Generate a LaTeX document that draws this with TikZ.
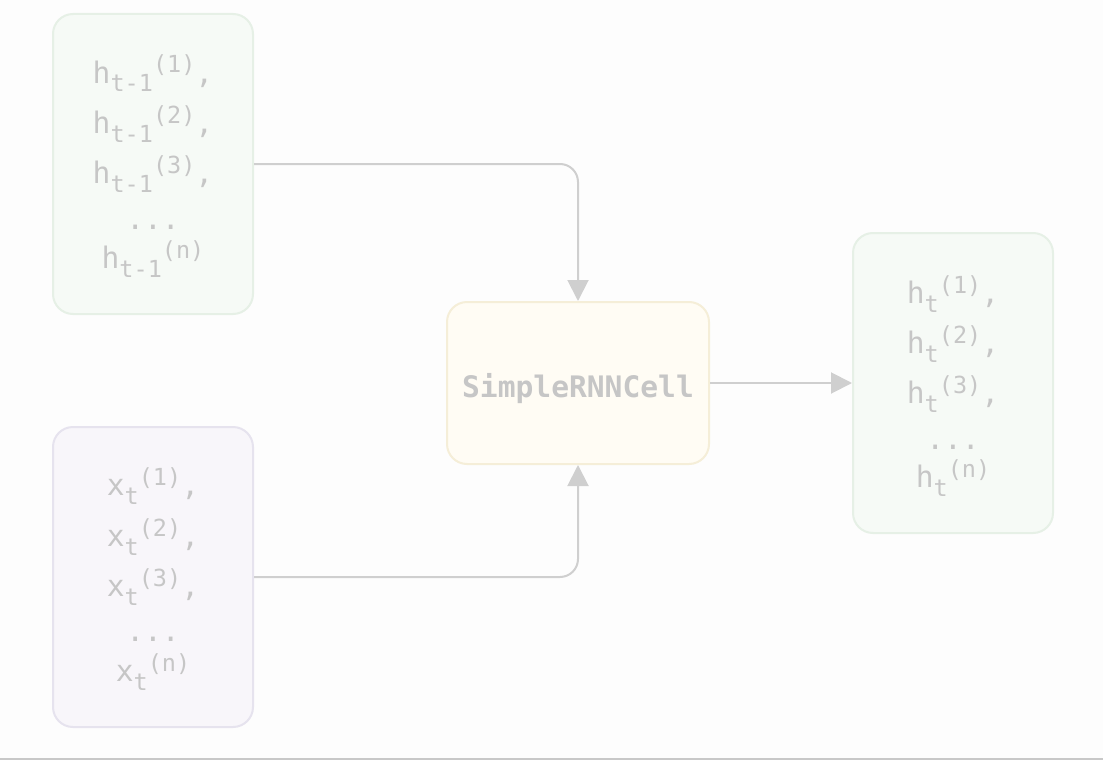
\documentclass[tikz,border=0pt]{standalone}
\usepackage{fontspec}
\newfontfamily\monofam{DejaVu Sans Mono}
\usetikzlibrary{arrows.meta}
\definecolor{bgc}{HTML}{FDFDFD}
\definecolor{txt}{HTML}{C6C6C6}
\definecolor{arr}{HTML}{CFCFCF}
\definecolor{gfill}{HTML}{F6FAF6}
\definecolor{gdraw}{HTML}{E6F0E6}
\definecolor{pfill}{HTML}{F8F6FA}
\definecolor{pdraw}{HTML}{E6E3EE}
\definecolor{yfill}{HTML}{FFFCF4}
\definecolor{ydraw}{HTML}{F5EED8}
\definecolor{botline}{HTML}{C8C8C8}
\newcommand\vsubsup[3]{#1\raisebox{-9pt}{\fontsize{23.5}{23.5}\selectfont #2}\raisebox{10pt}{\fontsize{23.5}{23.5}\selectfont #3}}
\tikzset{
  box/.style={rectangle, rounded corners=20pt, line width=2pt, minimum width=200pt, minimum height=300pt, inner sep=0pt},
  gbox/.style={box, fill=gfill, draw=gdraw},
  pbox/.style={box, fill=pfill, draw=pdraw},
  cellbox/.style={box, fill=yfill, draw=ydraw, minimum width=262pt, minimum height=162pt},
  line/.style={anchor=base, inner sep=0pt, text=txt, font=\monofam\fontsize{29.6}{36}\selectfont},
  celltext/.style={line, font=\monofam\bfseries\fontsize{29.6}{36}\selectfont},
  conn/.style={draw=arr, line width=2pt, rounded corners=18pt, -{Triangle[length=21pt,width=21pt]}}
}
\begin{document}
\begin{tikzpicture}[x=1pt,y=-1pt]
\useasboundingbox (0,0) rectangle (1103,760);
\fill[bgc] (0,0) rectangle (1103,760);
\fill[botline] (0,758) rectangle (1103,760);

\node[gbox] (prev) at (153,164) {};
\node[pbox] (inp) at (153,577) {};
\node[cellbox] (cell) at (578,383) {};
\node[gbox] (out) at (953,383) {};

% previous hidden states
\node[line] (p1) at (153,83) {\vsubsup{h}{t-1}{(1)},};
\node[line] (p2) at (153,133) {\vsubsup{h}{t-1}{(2)},};
\node[line] (p3) at (153,183) {\vsubsup{h}{t-1}{(3)},};
\node[line] (p4) at (153,229) {...};
\node[line] (p5) at (153,268) {\vsubsup{h}{t-1}{(n)}};

% inputs
\node[line] (x1) at (153,495) {\vsubsup{x}{t}{(1)},};
\node[line] (x2) at (153,546) {\vsubsup{x}{t}{(2)},};
\node[line] (x3) at (153,596) {\vsubsup{x}{t}{(3)},};
\node[line] (x4) at (153,641) {...};
\node[line] (x5) at (153,681) {\vsubsup{x}{t}{(n)}};

% cell
\node[celltext] (c) at (578,397) {SimpleRNNCell};

% outputs
\node[line] (o1) at (953,303) {\vsubsup{h}{t}{(1)},};
\node[line] (o2) at (953,353) {\vsubsup{h}{t}{(2)},};
\node[line] (o3) at (953,403) {\vsubsup{h}{t}{(3)},};
\node[line] (o4) at (953,449) {...};
\node[line] (o5) at (953,487) {\vsubsup{h}{t}{(n)}};

\draw[conn] (prev.east) -| (cell.north);
\draw[conn] (inp.east) -| (cell.south);
\draw[conn] (cell.east) -- (out.west);
\end{tikzpicture}
\end{document}
